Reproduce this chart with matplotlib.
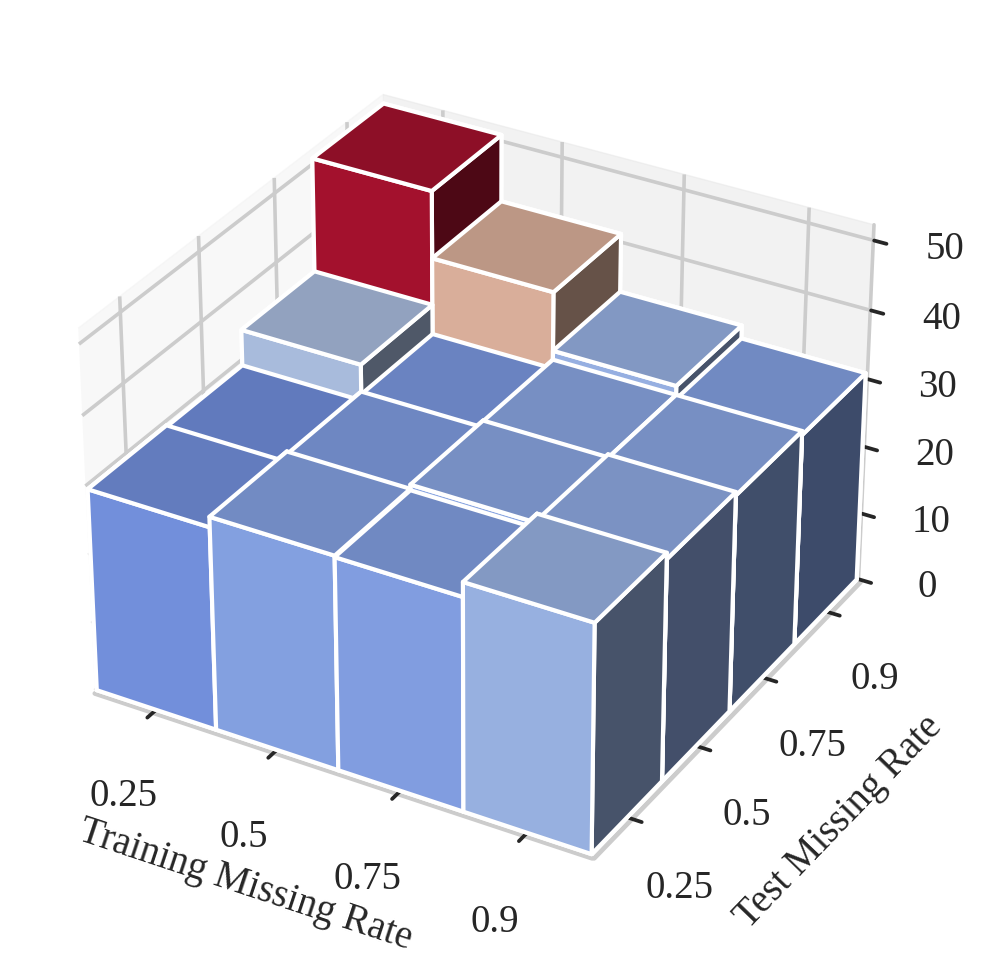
"""3D bar chart of error by training / test missing rate."""
import matplotlib
matplotlib.use("Agg")
import matplotlib.pyplot as plt
import matplotlib.transforms as mtransforms
import numpy as np
import seaborn as sns

sns.set_theme(style="whitegrid")
plt.rcParams["font.family"] = ["Liberation Serif", "DejaVu Serif"]
plt.rcParams["grid.color"] = "#cccccc"
plt.rcParams["grid.linewidth"] = 2.6
plt.rcParams["axes.linewidth"] = 3.4
plt.rcParams["axes.edgecolor"] = "#cccccc"
for k in ("xtick", "ytick"):
    plt.rcParams[f"{k}.major.width"] = 2.7
    plt.rcParams[f"{k}.color"] = "#262626"

train_labels = ["0.25", "0.5", "0.75", "0.9"]
test_labels = ["0.25", "0.5", "0.75", "0.9"]
# rows = test rate, columns = train rate
values = np.array([
    [29.5, 31.0, 30.8, 32.9],
    [29.3, 30.6, 31.6, 32.0],
    [34.5, 30.2, 31.5, 31.5],
    [51.0, 41.3, 32.8, 30.9],
])

xx, yy = np.meshgrid(np.arange(4), np.arange(4))
x, y = xx.ravel(), yy.ravel()
z = values.ravel()

norm = plt.Normalize(24.3, 51.0)
colors = plt.cm.coolwarm(norm(z))
colors[:, :3] = colors[:, :3] * 0.94 + 0.06

fig = plt.figure(figsize=(9.96, 9.67), dpi=100)
ax = fig.add_axes([-28 / 996, 12 / 967, 1.0, 1.0], projection="3d")
ax.view_init(elev=31, azim=-60)
ax.set_box_aspect((4, 4, 2.93), zoom=0.912)
ax.bar3d(x - 0.5, y - 0.5, np.zeros_like(z), 1, 1, z, color=colors,
         edgecolor="white", linewidth=3.0, shade=True)

ax.set_xticks(np.arange(4))
ax.set_yticks(np.arange(4))
ax.set_xticklabels(train_labels, fontsize=28, color="#262626")
ax.set_yticklabels(test_labels, fontsize=28, color="#262626")
ax.set_zticks([0, 10, 20, 30, 40, 50])
ax.tick_params(axis="z", labelsize=28, labelcolor="#262626", pad=26)
ax.tick_params(axis="x", pad=31)
ax.tick_params(axis="y", pad=28)
ax.set_xlabel("Training Missing Rate", fontsize=28, color="#262626", labelpad=42)
ax.set_ylabel("Test Missing Rate", fontsize=28, color="#262626", labelpad=58)
ax.set_xlim(-0.51, 3.51)
ax.set_ylim(-0.51, 3.51)
ax.set_zlim(0, 52.2)
for axis in (ax.xaxis, ax.yaxis, ax.zaxis):
    axis._axinfo["tick"]["inward_factor"] = 0.32
    axis._axinfo["tick"]["outward_factor"] = -0.02
    axis._axinfo["tick"]["linewidth"] = {True: 2.7, False: 1}
    axis._axinfo["tick"]["color"] = "#262626"
    axis.line.set_color("#cccccc")
ax.zaxis.line.set_linewidth(2.6)
# floor lines show just below the bars' white edges
ax.xaxis.line.set_transform(
    mtransforms.offset_copy(ax.transData, fig=fig, x=0, y=-3, units="dots"))
ax.yaxis.line.set_transform(
    mtransforms.offset_copy(ax.transData, fig=fig, x=2, y=-3, units="dots"))

# x label sits off the axis midpoint in the original; Axis3D.draw resets the
# label transform, so the nudge has to go in right before the text is drawn
xlabel = ax.xaxis.label
xlabel_tr = mtransforms.offset_copy(ax.transData, fig=fig, x=-40, y=-3, units="dots")
draw_xlabel = xlabel.draw


def draw_shifted(renderer):
    xlabel.set_transform(xlabel_tr)
    draw_xlabel(renderer)


xlabel.draw = draw_shifted

fig.savefig("out.png", dpi=100)
